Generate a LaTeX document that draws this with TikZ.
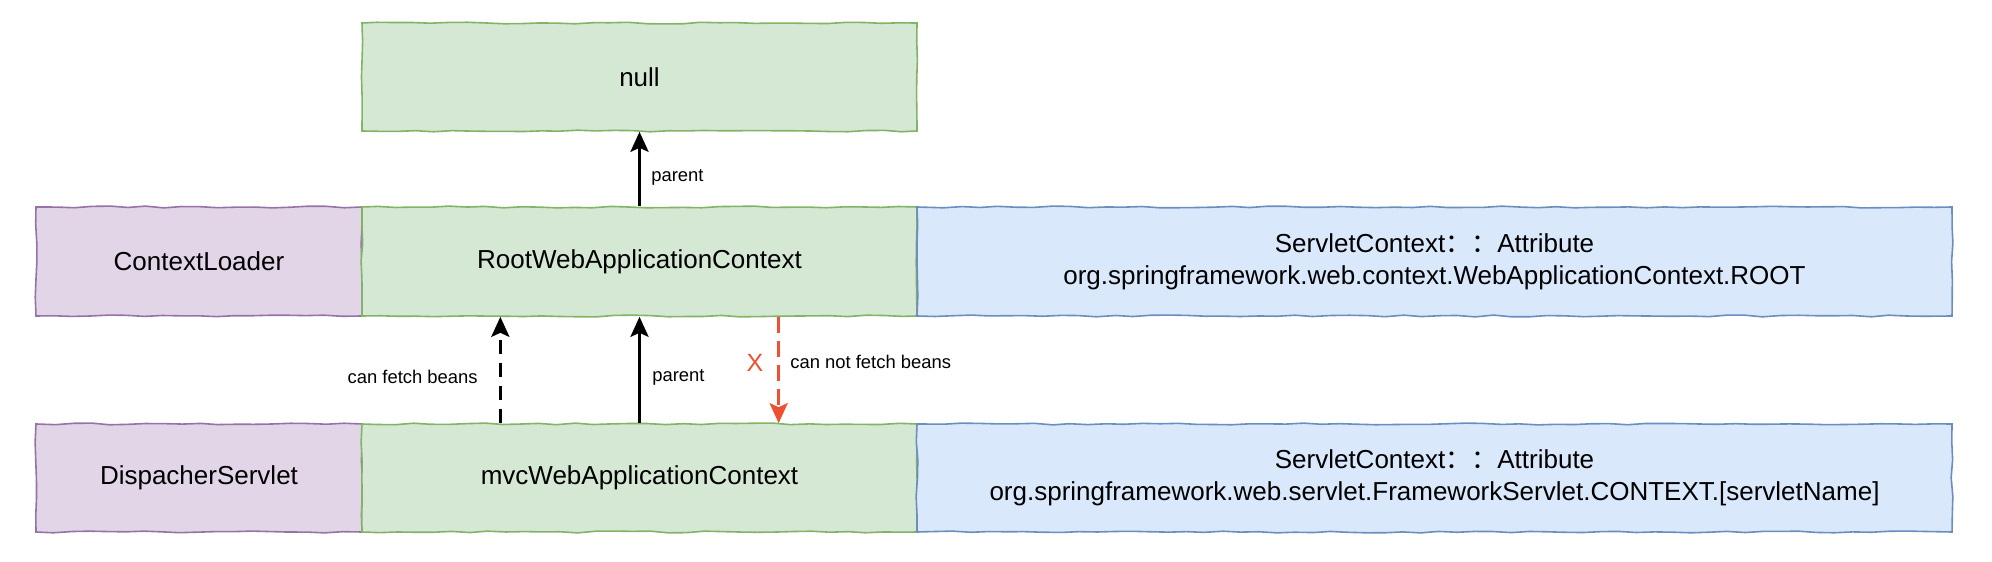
\documentclass[tikz,border=0pt]{standalone}
\usepackage{fontspec}
\setmainfont{Liberation Sans}
\newfontfamily\cjk{Noto Sans CJK SC}
\usetikzlibrary{arrows.meta,calc,decorations.pathmorphing}
\definecolor{gfill}{HTML}{D5E8D4}
\definecolor{gline}{HTML}{82B366}
\definecolor{pfill}{HTML}{E1D5E7}
\definecolor{pline}{HTML}{9673A6}
\definecolor{bfill}{HTML}{DAE8FC}
\definecolor{bline}{HTML}{6C8EBF}
\definecolor{redarrow}{HTML}{EE5032}
\begin{document}
\begin{tikzpicture}[x=1pt,y=1pt,
  sketch/.style={decorate,decoration={random steps,segment length=9pt,amplitude=0.45pt}},
  box/.style={draw, line width=0.8pt, inner sep=0pt, minimum height=54.5pt,
    font=\fontsize{13}{16}\selectfont, align=center, sketch},
  gbox/.style={box, fill=gfill, draw=gline},
  pbox/.style={box, fill=pfill, draw=pline},
  bbox/.style={box, fill=bfill, draw=bline},
  arr/.style={line width=1.6pt, -{Stealth[length=10pt,width=9pt,inset=2pt]}},
  dasharr/.style={arr, dash pattern=on 7pt off 4.5pt},
  redarr/.style={arr, draw=redarrow, dash pattern=on 8pt off 4pt},
  lbl/.style={font=\fontsize{9.2}{11}\selectfont, inner sep=0pt}
]
\pgfmathsetseed{7}
\useasboundingbox (0,0) rectangle (996,281);

% row 1
\node[pbox, minimum width=163pt] (cl) at (99.5,150.25) {ContextLoader};
\node[gbox, minimum width=277.5pt] (root) at (319.75,150.25) {RootWebApplicationContext};
\node[bbox, minimum width=517.5pt] (sc1) at (717.25,150.25)
  {ServletContext{\cjk ：：}Attribute\\org.springframework.web.context.WebApplicationContext.ROOT};

% null
\node[gbox, minimum width=277.5pt, minimum height=54pt] (null) at (319.75,242.5) {null};

% row 2
\node[pbox, minimum width=163pt, minimum height=54pt] (ds) at (99.5,42) {DispacherServlet};
\node[gbox, minimum width=277.5pt, minimum height=54pt] (mvc) at (319.75,42) {mvcWebApplicationContext};
\node[bbox, minimum width=517.5pt, minimum height=54pt] (sc2) at (717.25,42)
  {ServletContext{\cjk ：：}Attribute\\org.springframework.web.servlet.FrameworkServlet.CONTEXT.[servletName]};

% arrows
\draw[arr] (root.north) -- (null.south);
\node[lbl, anchor=west] (p1) at (325.5,192.5) {parent};

\coordinate (m25) at ($(mvc.north west)!0.25!(mvc.north east)$);
\coordinate (r25) at ($(root.south west)!0.25!(root.south east)$);
\draw[dasharr] (m25) -- (r25);
\node[lbl, anchor=east] (cfb) at (239,92.5) {can fetch beans};

\draw[arr] (mvc.north) -- (root.south);
\node[lbl, anchor=west] (p2) at (326,92.5) {parent};

\coordinate (r75) at ($(root.south west)!0.75!(root.south east)$);
\coordinate (m75) at ($(mvc.north west)!0.75!(mvc.north east)$);
\draw[redarr] (r75) -- (m75);
\node[font=\fontsize{12.5}{14}\selectfont, text=redarrow, inner sep=0pt] (x) at (377.5,99.5) {X};
\node[lbl, anchor=west] (cnfb) at (395,100) {can not fetch beans};
\end{tikzpicture}
\end{document}
